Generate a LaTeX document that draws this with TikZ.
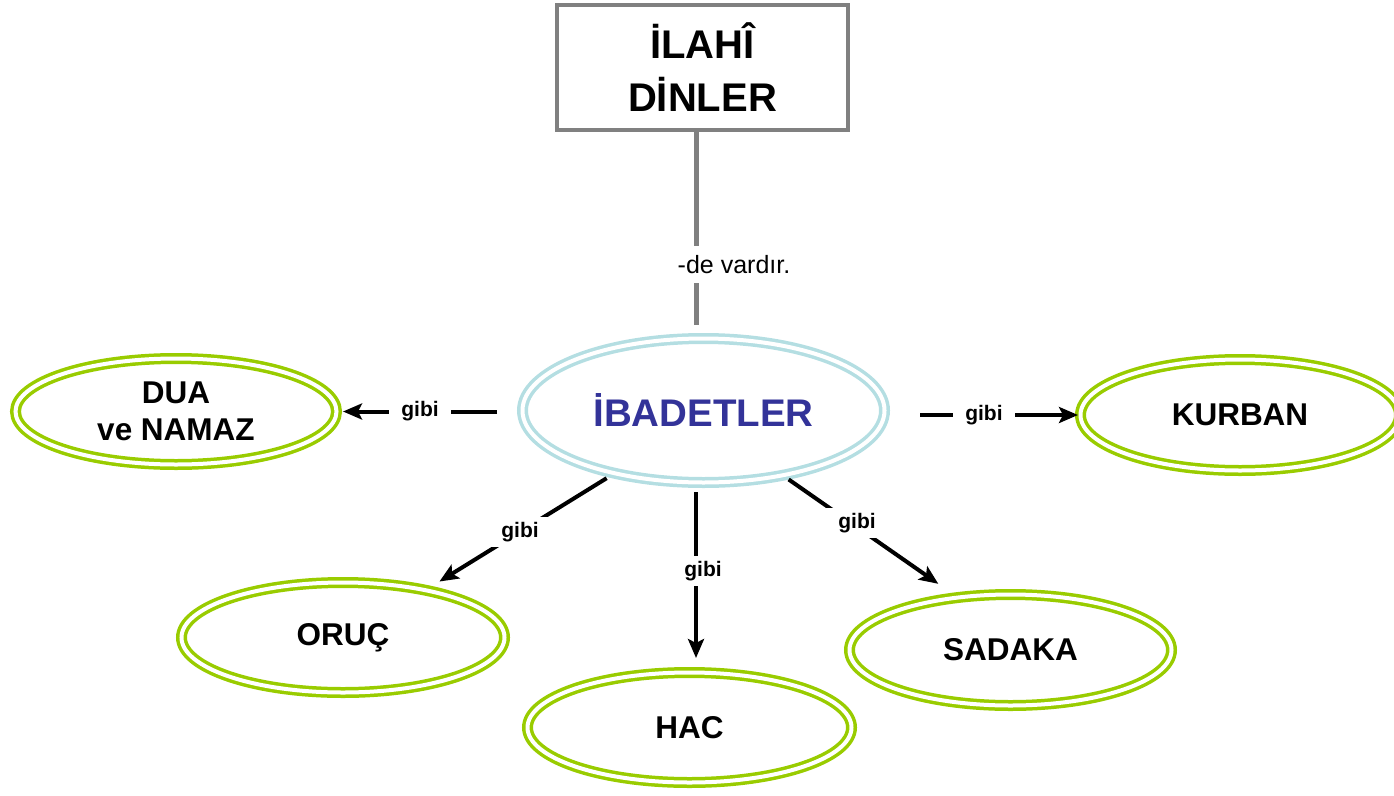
\documentclass[tikz,border=0pt]{standalone}
\usepackage{fontspec}
\setmainfont{Liberation Sans}
\usetikzlibrary{shapes.geometric,arrows.meta,calc}
\definecolor{lgreen}{RGB}{153,204,0}
\definecolor{lblue}{RGB}{180,222,226}
\definecolor{dgray}{RGB}{128,128,128}
\definecolor{dblue}{RGB}{51,51,153}
\tikzset{
  oval/.style={ellipse, draw=lgreen, double=white, line width=3.5pt, double distance=4pt,
    inner sep=0pt, outer sep=5.5pt, align=center, font=\fontsize{31.5}{37}\selectfont\bfseries},
  mainoval/.style={oval, draw=lblue, text=dblue, font=\fontsize{38.5}{44}\selectfont\bfseries},
  topbox/.style={rectangle, draw=dgray, line width=4pt, align=center,
    font=\fontsize{40}{53}\selectfont\bfseries, minimum width=291pt, minimum height=125pt},
  conn/.style={line width=4pt, -{Stealth[length=19pt,width=16pt,inset=4pt]}},
  lbl/.style={fill=white, inner xsep=12pt, inner ysep=5pt, font=\fontsize{21}{24}\selectfont\bfseries},
}
\begin{document}
\begin{tikzpicture}[x=1pt,y=-1pt]
\useasboundingbox (0,0) rectangle (1394,795);
\node[topbox] (top) at (702.5,67.5) {İLAHÎ\\DİNLER};
\node[mainoval, minimum width=362pt, minimum height=144pt] (ib) at (703.5,410.5) {İBADETLER};
\node[oval, minimum width=321pt, minimum height=106pt] (dua) at (176,411.5) {DUA\\ve NAMAZ};
\node[oval, minimum width=319pt, minimum height=111pt] (kur) at (1240,415) {KURBAN};
\node[oval, minimum width=323pt, minimum height=110pt] (oruc) at (343,637.5) {ORUÇ};
\node[oval, minimum width=324pt, minimum height=110pt] (hac) at (689.5,727.5) {HAC};
\node[oval, minimum width=322pt, minimum height=111pt] (sad) at (1010.5,650) {SADAKA};
\coordinate (hx) at (696,0);

\draw[dgray, line width=5pt, shorten >=8pt] (top.south -| hx) -- (ib.north -| hx)
  node[pos=0.66, xshift=38pt, fill=white, text=black, inner xsep=4pt, inner ysep=9pt, font=\fontsize{25}{28}\selectfont] (dv) {-de vardır.};

\draw[conn, shorten <=20pt, shorten >=1pt] (ib.west |- dua.east) -- (dua.east)
  node[lbl, pos=0.554] (g1) {gibi};
\draw[conn, shorten <=30pt, shorten >=-3pt] (ib.east |- kur.west) -- (kur.west)
  node[lbl, pos=0.508] (g2) {gibi};
\draw[conn, shorten <=2pt, shorten >=9pt] (ib.215.5) -- (oruc.30)
  node[lbl, pos=0.5] (g3) {gibi};
\draw[conn, shorten <=4pt, shorten >=9pt] (ib.south -| hx) -- (hac.north -| hx)
  node[lbl, pos=0.464, inner xsep=3pt, xshift=7pt] (g4) {gibi};
\draw[conn, shorten <=0pt, shorten >=16pt] (ib.-39.8) -- (sad.136)
  node[lbl, pos=0.42, yshift=4pt] (g5) {gibi};
\end{tikzpicture}
\end{document}
